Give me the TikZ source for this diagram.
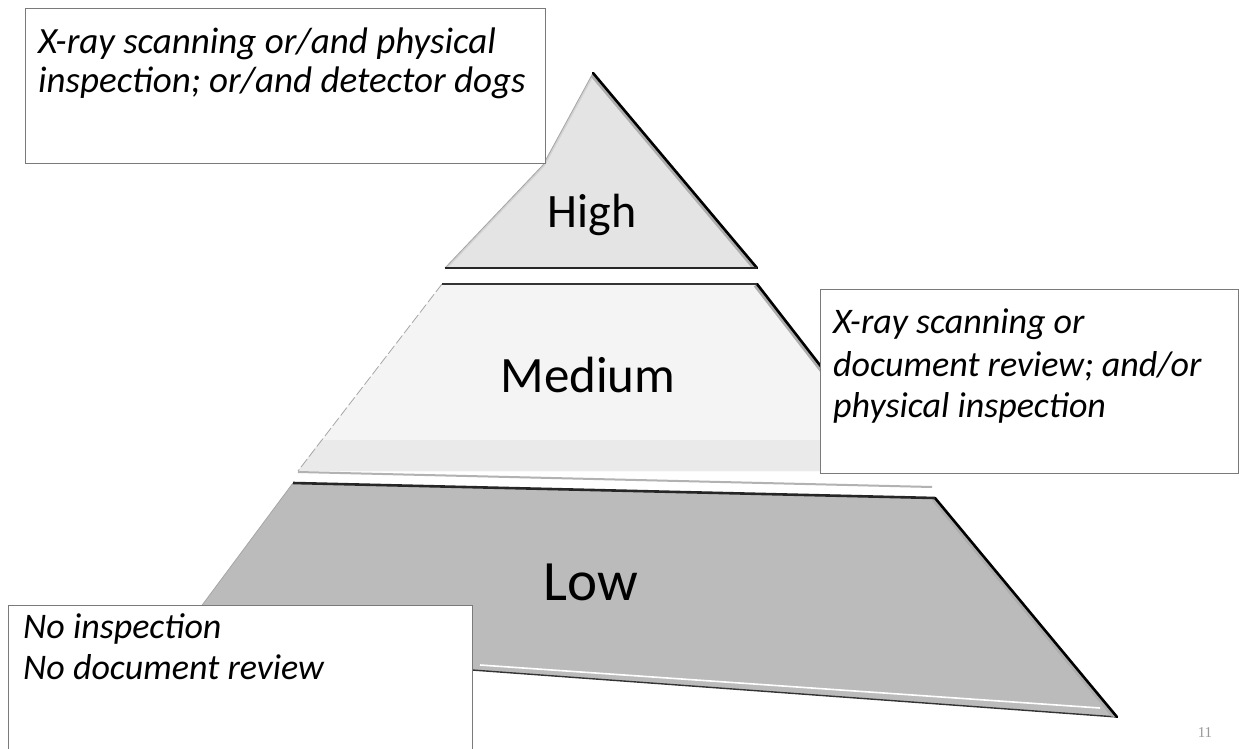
\documentclass[tikz,border=0pt]{standalone}
\usepackage{fontspec}
\setmainfont{Carlito}
\newfontfamily\numfont{Liberation Serif}
\definecolor{hifill}{HTML}{E4E4E4}
\definecolor{medfill}{HTML}{F4F4F4}
\definecolor{medband}{HTML}{EAEAEA}
\definecolor{lowfill}{HTML}{BBBBBB}
\definecolor{edgegray}{HTML}{8A8A8A}
\definecolor{boxline}{HTML}{7A7A7A}
\tikzset{
  sidebox/.style={draw=boxline, line width=1.4pt, fill=white},
  sidetext/.style={anchor=base west, inner sep=0pt, font=\fontsize{36}{41}\selectfont\itshape},
  toptext/.style={anchor=base west, inner sep=0pt, font=\fontsize{37}{42}\selectfont\itshape},
  tierlabel/.style={anchor=base, inner sep=0pt, font=\fontsize{48}{58}\selectfont},
  darkedge/.style={line width=2.6pt, black, line cap=round},
  bevel/.style={line width=8pt, edgegray!70},
  faintedge/.style={line width=0.8pt, gray!70},
  lightband/.style={line width=4pt, gray!35},
}
\begin{document}
\begin{tikzpicture}[x=1pt,y=-1pt]
\useasboundingbox (0,0) rectangle (1239,749);
\fill[white] (0,0) rectangle (1239,749);

% ---- Low tier
\coordinate (lowTL) at (293,483);
\coordinate (lowTR) at (935,498);
\coordinate (lowBR) at (1117,717);
\coordinate (lowBM) at (472,670);
\coordinate (lowBL) at (168,651);
\fill[lowfill] (lowTL) -- (lowTR) -- (lowBR) -- (lowBM) -- (lowBL) -- cycle;
\draw[faintedge] (lowTL) -- (lowBL);
\draw[white, line width=1.6pt] (480,665) -- (1100,708);
\draw[line width=1.4pt, black!80] (lowBL) -- (lowBM) -- (lowBR);
\begin{scope}
\clip (lowTL) -- (lowTR) -- (lowBR) -- (lowBM) -- (lowBL) -- cycle;
\draw[bevel] (lowTR) -- (lowBR);
\end{scope}
\draw[darkedge] (lowTR) -- (lowBR);

% ---- Medium tier
\coordinate (medTL) at (442,284);
\coordinate (medTR) at (757,284);
\coordinate (medBR) at (902,471);
\coordinate (medBL) at (298,471);
\fill[medfill] (medTL) -- (medTR) -- (medBR) -- (medBL) -- cycle;
\fill[medband] (321,440) -- (878,440) -- (medBR) -- (medBL) -- cycle;
\draw[faintedge, dash pattern=on 10pt off 3pt] (medTL) -- (medBL);
\begin{scope}
\clip (medTL) -- (medTR) -- (medBR) -- (medBL) -- cycle;
\draw[bevel] (medTR) -- (medBR);
\end{scope}
\draw[darkedge] (medTR) -- (medBR);
% double line between medium and low
\draw[line width=2pt, gray!60] (298,472) -- (932,487);
\draw[line width=2.6pt, black!85] (lowTL) -- (lowTR);

% ---- High tier
\coordinate (apex) at (593,73);
\coordinate (hiR) at (757,268);
\coordinate (hiK) at (543,165);
\coordinate (hiL) at (445,268);
\fill[hifill] (apex) -- (hiR) -- (hiL) -- (hiK) -- cycle;
\begin{scope}
\clip (apex) -- (hiR) -- (hiL) -- (hiK) -- cycle;
\draw[lightband] (apex) -- (hiK) -- (hiL);
\draw[bevel] (apex) -- (hiR);
\end{scope}
\draw[faintedge] (apex) -- (hiK) -- (hiL);
\draw[darkedge] (apex) -- (hiR);
% double line between high and medium
\draw[line width=2.6pt, black!85] (hiL) -- (hiR);
\draw[line width=2.4pt, black!80] (medTL) -- (medTR);

% ---- Tier labels
\node[tierlabel] (high) at (592,227) {High};
\node[tierlabel, font=\fontsize{51}{60}\selectfont] (medium) at (588,392) {Medium};
\node[tierlabel, font=\fontsize{57}{66}\selectfont] (low) at (591,600) {Low};

% ---- Boxes
\node[sidebox, anchor=north west, minimum width=520pt, minimum height=155pt, inner sep=0pt] (topbox) at (25,8) {};
\node[toptext] (toptxtA) at (38,54) {X-ray scanning or/and physical};
\node[toptext] (toptxtB) at (38,93) {inspection; or/and detector dogs};

\node[sidebox, anchor=north west, minimum width=418pt, minimum height=184pt, inner sep=0pt] (rightbox) at (820,289) {};
\node[sidetext] (rtxtA) at (833,333) {X-ray scanning or};
\node[sidetext] (rtxtB) at (833,376) {document review; and/or};
\node[sidetext] (rtxtC) at (833,417) {physical inspection};

\node[sidebox, anchor=north west, minimum width=464pt, minimum height=160pt, inner sep=0pt] (botbox) at (8,605) {};
\node[sidetext] (btxtA) at (23,638) {No inspection};
\node[sidetext] (btxtB) at (23,679) {No document review};

% ---- page number
\node[inner sep=0pt, font=\numfont\fontsize{15}{17}\selectfont, text=gray!80] (pagenum) at (1205,733) {11};
\end{tikzpicture}
\end{document}
